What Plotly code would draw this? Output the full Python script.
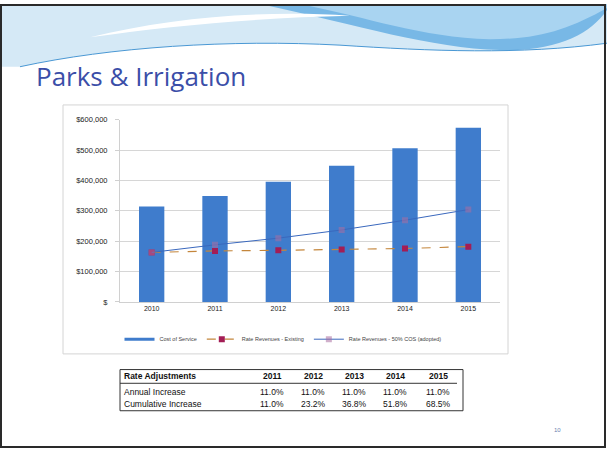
import plotly.graph_objects as go

W, H = 607, 452

# chart data
years = ["2010", "2011", "2012", "2013", "2014", "2015"]
cost_of_service = [314000, 349000, 396000, 448000, 506000, 573000]
rev_existing = [163000, 168000, 170000, 173000, 176000, 182000]
rev_adopted = [163000, 188000, 210000, 237000, 269000, 304000]

y_tickvals = [0, 100000, 200000, 300000, 400000, 500000, 600000]
y_ticktext = ["$", "$100,000", "$200,000", "$300,000", "$400,000", "$500,000", "$600,000"]

# rate adjustment table
table_years = ["2011", "2012", "2013", "2014", "2015"]
annual_increase = ["11.0%", "11.0%", "11.0%", "11.0%", "11.0%"]
cumulative_increase = ["11.0%", "23.2%", "36.8%", "51.8%", "68.5%"]


def px(x):
    return x / W


def py(y):
    return 1 - y / H


def path(cmds):
    """Build an SVG path in paper coords from pixel commands."""
    out = []
    for c in cmds:
        if isinstance(c, str):
            out.append(c)
        else:
            out.append(f"{px(c[0]):.4f},{py(c[1]):.4f}")
    return " ".join(out)


fig = go.Figure()

fig.add_trace(go.Bar(
    x=years, y=cost_of_service, name="Cost of Service",
    marker=dict(color="#3f7ccc", line=dict(width=0)),
    width=0.4, showlegend=False,
))
# legend stand-in for the bars (drawn as a thick line like the original)
fig.add_trace(go.Scatter(
    x=[None], y=[None], mode="lines", name="Cost of Service",
    line=dict(color="#3f7ccc", width=3),
))
fig.add_trace(go.Scatter(
    x=years, y=rev_existing, mode="lines+markers",
    name="Rate Revenues - Existing",
    line=dict(color="#c4863c", width=1.2, dash="dash"),
    marker=dict(symbol="square", size=6, color="#a31d55"),
))
fig.add_trace(go.Scatter(
    x=years, y=rev_adopted, mode="lines+markers",
    name="Rate Revenues - 50% COS (adopted)",
    line=dict(color="#3a68bd", width=1),
    marker=dict(symbol="square", size=6, color="rgba(170,110,160,0.55)"),
))

fig.update_layout(
    width=W, height=H,
    margin=dict(l=0, r=0, t=0, b=0),
    paper_bgcolor="white", plot_bgcolor="white",
    font=dict(family="Liberation Sans, Arial", color="#333"),
    xaxis=dict(
        domain=[px(120), px(500)], type="category", range=[-0.5, 5.5],
        showgrid=False, showline=True, linecolor="#d0d0d0", ticks="",
        tickfont=dict(size=7, color="#222"),
    ),
    yaxis=dict(
        domain=[py(304), py(118)], range=[0, 600000],
        tickvals=y_tickvals, ticktext=y_ticktext,
        showgrid=True, gridcolor="#d6d6d6", gridwidth=1,
        showline=True, linecolor="#d0d0d0",
        ticks="outside", ticklen=4, tickcolor="#d0d0d0", ticklabelstandoff=6,
        tickfont=dict(size=7.5, color="#222"), zeroline=False,
    ),
    legend=dict(
        orientation="h", x=px(283), y=py(342), xanchor="center", yanchor="middle",
        font=dict(size=5.5, color="#444"), itemwidth=30,
        bgcolor="rgba(0,0,0,0)", traceorder="normal",
    ),
)

shapes = []
# header decoration
shapes.append(dict(type="path", xref="paper", yref="paper", layer="below",
                   path=path(["M", (2, 0), "L", (607, 0), "L", (607, 40), "C", (520, 52), (430, 48), (340, 42),
                              "C", (230, 36), (110, 44), (20, 64), "L", (2, 64), "Z"]),
                   fillcolor="#d5e9f6", line=dict(width=0)))
shapes.append(dict(type="path", xref="paper", yref="paper", layer="below",
                   path=path(["M", (260, 0), "L", (607, 0), "L", (607, 6), "C", (590, 30), (560, 48), (500, 47),
                              "C", (430, 45), (360, 22), (260, 0), "Z"]),
                   fillcolor="#78b8e6", line=dict(width=0)))
shapes.append(dict(type="path", xref="paper", yref="paper", layer="below",
                   path=path(["M", (300, 0), "L", (607, 0), "L", (607, 4), "C", (570, 25), (540, 36), (490, 36),
                              "C", (420, 34), (370, 14), (300, 0), "Z"]),
                   fillcolor="#a9d4f1", line=dict(width=0)))
shapes.append(dict(type="path", xref="paper", yref="paper", layer="below",
                   path=path(["M", (90, 34), "C", (170, 14), (260, 6), (350, 12),
                              "C", (260, 14), (170, 22), (90, 34), "Z"]),
                   fillcolor="white", line=dict(width=0)))
shapes.append(dict(type="path", xref="paper", yref="paper", layer="below",
                   path=path(["M", (20, 64), "C", (110, 44), (230, 36), (340, 42),
                              "C", (430, 48), (520, 52), (607, 40)]),
                   line=dict(color="#4a98d4", width=1)))
# chart frame
shapes.append(dict(type="rect", xref="paper", yref="paper", layer="below",
                   x0=px(63), x1=px(508), y0=py(357), y1=py(103),
                   line=dict(color="#d4d4d4", width=1)))
# table frame and header rule
shapes.append(dict(type="rect", xref="paper", yref="paper",
                   x0=px(120), x1=px(463), y0=py(415), y1=py(373),
                   line=dict(color="#333", width=1)))
shapes.append(dict(type="line", xref="paper", yref="paper",
                   x0=px(120), x1=px(457), y0=py(387), y1=py(387),
                   line=dict(color="#333", width=1)))
# scan border
shapes.append(dict(type="rect", xref="paper", yref="paper",
                   x0=px(1), x1=px(605), y0=py(452), y1=py(1),
                   line=dict(color="#2a2a2a", width=2)))
fig.update_layout(shapes=shapes)

ann = []
ann.append(dict(text="Parks & Irrigation", x=px(34), y=py(73), xref="paper", yref="paper",
                xanchor="left", yanchor="middle", showarrow=False,
                font=dict(family="Open Sans, Noto Sans", size=26, color="#3b4ea8")))

# table text
col_x = [272, 313, 354, 395, 438]
rows = [("Rate Adjustments", table_years, 380, True),
        ("Annual Increase", annual_increase, 396, False),
        ("Cumulative Increase", cumulative_increase, 408, False)]
for label, vals, y, bold in rows:
    ann.append(dict(text=f"<b>{label}</b>" if bold else label, x=px(122), y=py(y),
                    xref="paper", yref="paper", xanchor="left", yanchor="middle",
                    showarrow=False, font=dict(size=8.5, color="#111")))
    for cx, v in zip(col_x, vals):
        ann.append(dict(text=f"<b>{v}</b>" if bold else v, x=px(cx), y=py(y),
                        xref="paper", yref="paper", xanchor="center", yanchor="middle",
                        showarrow=False, font=dict(size=8.5, color="#111")))

ann.append(dict(text="10", x=px(563), y=py(440), xref="paper", yref="paper",
                showarrow=False, font=dict(size=6, color="#6a7fb0")))
fig.update_layout(annotations=ann)

# drop the default page margin so the figure sits at the window origin
fig.write_html("out.html", config={"displayModeBar": False},
               post_script="document.body.style.margin='0';")
